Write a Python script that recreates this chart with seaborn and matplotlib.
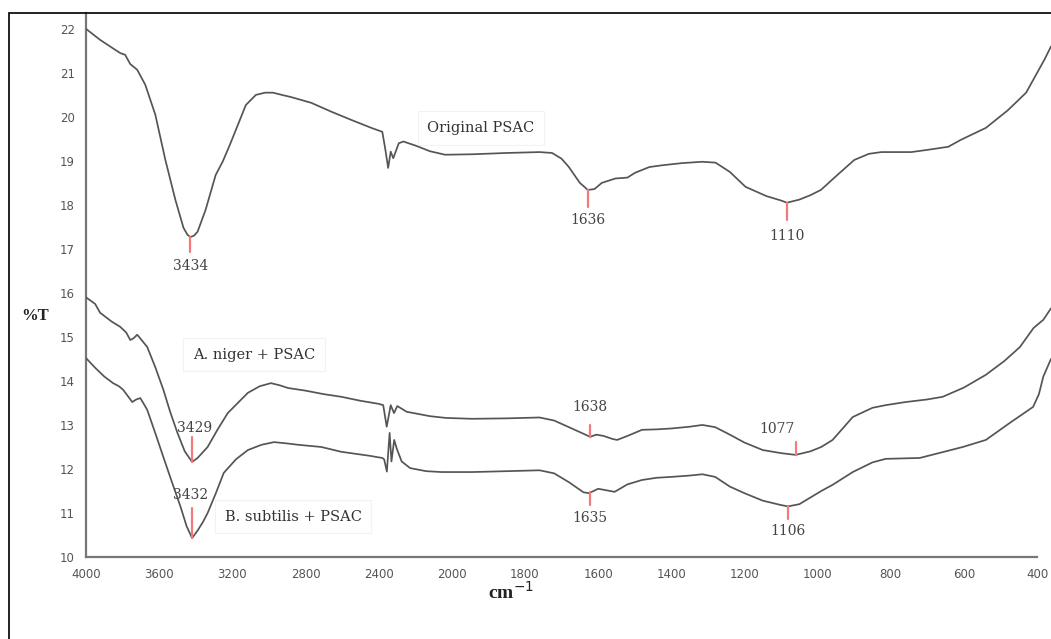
import numpy as np
import pandas as pd
import seaborn as sns
import matplotlib.pyplot as plt
from matplotlib.patches import Rectangle

# wavenumber (cm-1) and %T
orig_wn = [4000, 3923, 3850, 3813, 3786, 3758, 3720, 3676, 3621, 3566, 3511, 3467, 3445, 3429, 3410,
           3390, 3346, 3291, 3253, 3215, 3181, 3126, 3071, 3020, 2978, 2930, 2879, 2769, 2660, 2549,
           2440, 2380, 2365, 2348, 2334, 2320, 2290, 2265, 2200, 2120, 2037, 1945, 1850, 1760, 1726,
           1700, 1680, 1650, 1628, 1610, 1590, 1553, 1520, 1499, 1460, 1425, 1370, 1315, 1279, 1240,
           1197, 1140, 1100, 1084, 1050, 1020, 991, 950, 900, 860, 826, 744, 700, 643, 608,
           540, 480, 430, 400, 380, 362]
orig_t = [22.0, 21.75, 21.55, 21.45, 21.41, 21.2, 21.07, 20.73, 20.05, 19.02, 18.11, 17.48, 17.32, 17.27, 17.3,
          17.39, 17.89, 18.68, 18.98, 19.35, 19.7, 20.27, 20.5, 20.55, 20.55, 20.5, 20.45, 20.32, 20.12, 19.93,
          19.75, 19.66, 19.3, 18.84, 19.21, 19.06, 19.4, 19.44, 19.35, 19.22, 19.14, 19.15, 19.18, 19.2, 19.18,
          19.05, 18.86, 18.5, 18.34, 18.36, 18.5, 18.6, 18.62, 18.73, 18.86, 18.9, 18.95, 18.98, 18.96, 18.75,
          18.41, 18.2, 18.1, 18.05, 18.12, 18.22, 18.34, 18.65, 19.02, 19.16, 19.2, 19.2, 19.25, 19.32, 19.48,
          19.75, 20.15, 20.55, 21.0, 21.3, 21.6]

niger_wn = [4000, 3950, 3923, 3860, 3813, 3780, 3758, 3740, 3720, 3700, 3665, 3620, 3577, 3540, 3500,
            3460, 3420, 3390, 3335, 3280, 3225, 3170, 3115, 3050, 2989, 2940, 2896, 2800, 2700, 2604,
            2500, 2400, 2375, 2356, 2334, 2316, 2298, 2247, 2120, 2033, 1945, 1850, 1760, 1720, 1680,
            1640, 1622, 1605, 1585, 1560, 1548, 1520, 1480, 1440, 1400, 1350, 1315, 1280, 1240, 1200,
            1150, 1100, 1060, 1020, 990, 959, 904, 850, 814, 760, 700, 658, 600, 540, 490,
            447, 410, 383, 362]
niger_t = [15.9, 15.75, 15.55, 15.35, 15.23, 15.1, 14.93, 14.97, 15.05, 14.95, 14.77, 14.3, 13.8, 13.3, 12.82,
           12.4, 12.16, 12.25, 12.5, 12.9, 13.27, 13.5, 13.73, 13.88, 13.95, 13.9, 13.84, 13.78, 13.7, 13.64,
           13.55, 13.48, 13.45, 12.96, 13.45, 13.27, 13.43, 13.3, 13.2, 13.16, 13.14, 13.15, 13.17, 13.1, 12.95,
           12.8, 12.73, 12.78, 12.75, 12.68, 12.66, 12.75, 12.89, 12.9, 12.92, 12.96, 13.0, 12.95, 12.78, 12.6,
           12.43, 12.36, 12.32, 12.4, 12.5, 12.66, 13.18, 13.39, 13.45, 13.52, 13.58, 13.64, 13.85, 14.14, 14.45,
           14.77, 15.2, 15.39, 15.65]

subtilis_wn = [4000, 3950, 3900, 3852, 3820, 3797, 3770, 3747, 3725, 3703, 3680, 3665, 3620, 3577, 3530,
               3483, 3450, 3420, 3390, 3360, 3335, 3290, 3247, 3180, 3115, 3040, 2972, 2900, 2841, 2714,
               2604, 2450, 2380, 2370, 2355, 2340, 2330, 2315, 2300, 2274, 2228, 2140, 2055, 1945, 1850,
               1760, 1720, 1680, 1640, 1625, 1600, 1580, 1555, 1520, 1480, 1440, 1400, 1350, 1315, 1280,
               1240, 1200, 1150, 1100, 1081, 1050, 1020, 990, 959, 904, 850, 814, 721, 650, 603,
               540, 474, 411, 395, 383, 362]
subtilis_t = [14.52, 14.3, 14.1, 13.95, 13.88, 13.8, 13.65, 13.52, 13.58, 13.61, 13.45, 13.34, 12.8, 12.27, 11.7,
              11.14, 10.7, 10.43, 10.6, 10.8, 11.0, 11.45, 11.91, 12.22, 12.43, 12.55, 12.61, 12.58, 12.55, 12.5,
              12.39, 12.3, 12.25, 12.22, 11.94, 12.82, 12.17, 12.66, 12.45, 12.17, 12.02, 11.95, 11.93, 11.93, 11.95,
              11.97, 11.9, 11.7, 11.47, 11.45, 11.55, 11.52, 11.48, 11.65, 11.75, 11.8, 11.82, 11.85, 11.88, 11.82,
              11.6, 11.45, 11.28, 11.18, 11.15, 11.2, 11.35, 11.5, 11.64, 11.93, 12.15, 12.23, 12.25, 12.4, 12.5,
              12.66, 13.05, 13.41, 13.7, 14.1, 14.5]

series_names = ["Original PSAC", "A. niger + PSAC", "B. subtilis + PSAC"]
# where each sample name sits (wavenumber, %T)
name_x = [1920, 3082, 2868]
name_y = [19.75, 14.6, 10.92]

# peak markers: position, marker start/end (%T), label text, label position
peak_wn = [3429, 1628, 1084, 3420, 1622, 1059, 3420, 1622, 1081]
peak_y0 = [17.27, 18.34, 18.05, 12.16, 12.73, 12.32, 10.43, 11.47, 11.15]
peak_y1 = [16.93, 17.95, 17.66, 12.73, 13.0, 12.61, 11.11, 11.18, 10.86]
peak_text = ["3434", "1636", "1110", "3429", "1638", "1077", "3432", "1635", "1106"]
peak_lx = [3429, 1628, 1084, 3405, 1622, 1110, 3431, 1622, 1081]
peak_ly = [16.62, 17.66, 17.3, 12.93, 13.4, 12.9, 11.42, 10.88, 10.6]

x_ticks = [4000, 3600, 3200, 2800, 2400, 2000, 1800, 1600, 1400, 1200, 1000, 800, 600, 400]
y_ticks = list(range(10, 23))

df = pd.concat([
    pd.DataFrame({"wn": orig_wn, "T": orig_t, "sample": series_names[0]}),
    pd.DataFrame({"wn": niger_wn, "T": niger_t, "sample": series_names[1]}),
    pd.DataFrame({"wn": subtilis_wn, "T": subtilis_t, "sample": series_names[2]}),
])


# FTIR axis: scale doubles below 2000 cm-1
def fwd(x):
    x = np.asarray(x, dtype=float)
    return np.where(x >= 2000, x, 2 * x - 2000)


def inv(y):
    y = np.asarray(y, dtype=float)
    return np.where(y >= 2000, y, (y + 2000) / 2)


sns.set_style("white")
fig = plt.figure(figsize=(10.51, 6.39), dpi=100)
ax = fig.add_axes([86 / 1051, 82 / 639, 965 / 1051, 544 / 639])
ax.set_xscale("function", functions=(fwd, inv))

sns.lineplot(data=df, x="wn", y="T", hue="sample", units="sample", estimator=None, sort=False,
             palette=["#555555"] * 3, linewidth=1.25, legend=False, ax=ax, zorder=3)

ax.set_xlim(4000, 362)
ax.set_ylim(10, 22.36)

for x, y0, y1 in zip(peak_wn, peak_y0, peak_y1):
    ax.plot([x, x], [y0, y1], color="#f47a7a", lw=1.6, zorder=4)
for x, y, s in zip(peak_lx, peak_ly, peak_text):
    ax.text(x, y, s, ha="center", va="center", fontsize=10, family="DejaVu Serif", color="#444444",
            zorder=5)

box = dict(facecolor="white", edgecolor="#f2f2f2", pad=7, lw=0.8)
for x, y, s in zip(name_x, name_y, series_names):
    ax.text(x, y, s, fontsize=10.5, family="DejaVu Serif", color="#333333",
            ha="center", va="center", bbox=box, zorder=1)

ax.set_xticks(x_ticks)
ax.set_xticklabels([str(t) for t in x_ticks])
ax.set_yticks(y_ticks)
ax.set_yticks(np.arange(10.5, 22.5, 1.0), minor=True)
ax.tick_params(axis="both", which="major", direction="out", length=4, width=1.2, color="#666666",
               labelsize=8.5, labelcolor="#555555", pad=4)
ax.tick_params(axis="y", which="minor", direction="out", length=3, width=1, color="#666666")
ax.tick_params(axis="x", which="minor", length=0)

for side in ["top", "right"]:
    ax.spines[side].set_visible(False)
for side in ["left", "bottom"]:
    ax.spines[side].set_color("#777777")
    ax.spines[side].set_linewidth(1.6)
ax.spines["bottom"].set_bounds(4000, 400)
ax.set_xlabel("")
ax.set_ylabel("")

fig.text(35 / 1051, 1 - 316 / 639, "%T", fontsize=12, family="Liberation Serif", weight="bold",
         ha="center", va="center", color="#222222")
fig.text(511 / 1051, 1 - 592 / 639, "cm$^{-1}$", fontsize=14, family="Liberation Serif", weight="bold",
         ha="center", va="center", color="#222222")

# outer frame of the figure
fig.patches.append(Rectangle((9 / 1051, -0.1), 1.2, 0.1 + (639 - 13) / 639, transform=fig.transFigure,
                             fill=False, edgecolor="#111111", lw=1.3))

fig.savefig("out.png", dpi=100)
